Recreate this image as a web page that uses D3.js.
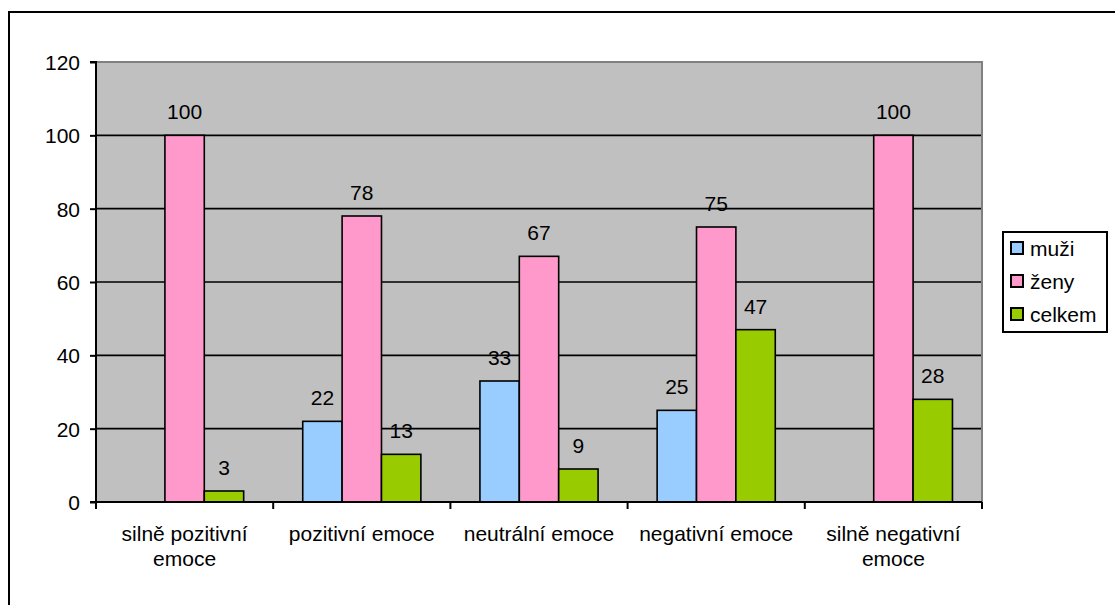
<!DOCTYPE html>
<html>
<head>
<meta charset="utf-8">
<script src="https://cdn.jsdelivr.net/npm/d3@7"></script>
<style>
  html, body { margin: 0; padding: 0; background: #fff; }
  svg { display: block; font-family: "Liberation Sans", Arial, sans-serif; }
</style>
</head>
<body>
<svg id="chart" width="1115" height="605"></svg>
<script>
// Categories (label lines) and series values
const categories = [
  ["silně pozitivní", "emoce"],
  ["pozitivní emoce"],
  ["neutrální emoce"],
  ["negativní emoce"],
  ["silně negativní", "emoce"]
];
const seriesNames = ["muži", "ženy", "celkem"];
const muzi   = [null, 22, 33, 25, null];
const zeny   = [100, 78, 67, 75, 100];
const celkem = [3, 13, 9, 47, 28];
const yTicks = [0, 20, 40, 60, 80, 100, 120];
const colors = ["#99CCFF", "#FF99CC", "#99CC00"];

const series = [muzi, zeny, celkem];

const svg = d3.select("#chart");
const plot = { left: 96, right: 982, top: 62, bottom: 502 };

// Outer frame (extends past the right and bottom edges)
svg.append("rect")
  .attr("x", 9).attr("y", 12)
  .attr("width", 1200).attr("height", 700)
  .attr("fill", "none").attr("stroke", "#000").attr("stroke-width", 2);

const x0 = d3.scaleBand()
  .domain(d3.range(categories.length))
  .range([plot.left, plot.right])
  .paddingInner(0).paddingOuter(0);

// Three bars per group, 150% gap width
const barW = x0.bandwidth() / 4.5;
const x1 = d3.scaleBand()
  .domain(d3.range(series.length))
  .range([0, barW * 3]);
const groupOffset = (x0.bandwidth() - barW * 3) / 2;

const y = d3.scaleLinear().domain([0, 120]).range([plot.bottom, plot.top]);

// Plot background
svg.append("rect")
  .attr("x", plot.left).attr("y", plot.top)
  .attr("width", plot.right - plot.left).attr("height", plot.bottom - plot.top)
  .attr("fill", "#C0C0C0");

// Gridlines
svg.append("g").selectAll("line")
  .data(yTicks.filter(t => t > 0 && t < 120))
  .join("line")
  .attr("x1", plot.left).attr("x2", plot.right)
  .attr("y1", d => y(d)).attr("y2", d => y(d))
  .attr("stroke", "#000").attr("stroke-width", 1.6);

// Grey top/right border of the plot area
svg.append("path")
  .attr("d", `M${plot.left},${plot.top}H${plot.right}V${plot.bottom}`)
  .attr("fill", "none").attr("stroke", "#808080").attr("stroke-width", 2);

// Bars
const bars = [];
series.forEach((vals, si) => {
  vals.forEach((v, ci) => {
    if (v !== null) bars.push({ si, ci, v });
  });
});

svg.append("g").selectAll("rect")
  .data(bars)
  .join("rect")
  .attr("x", d => x0(d.ci) + groupOffset + x1(d.si))
  .attr("y", d => y(d.v))
  .attr("width", x1.bandwidth())
  .attr("height", d => y(0) - y(d.v))
  .attr("fill", d => colors[d.si])
  .attr("stroke", "#000").attr("stroke-width", 1.6);

// Value labels
svg.append("g").selectAll("text")
  .data(bars)
  .join("text")
  .attr("x", d => x0(d.ci) + groupOffset + x1(d.si) + x1.bandwidth() / 2)
  .attr("y", d => y(d.v) - 16)
  .attr("text-anchor", "middle")
  .attr("font-size", 21)
  .attr("fill", "#000")
  .text(d => d.v);

// Y axis
const yAxis = d3.axisLeft(y).tickValues(yTicks).tickSize(6).tickPadding(10);
const gy = svg.append("g")
  .attr("transform", `translate(${plot.left},0)`)
  .call(yAxis);
gy.select(".domain").attr("stroke", "#000").attr("stroke-width", 2)
  .attr("d", `M-6,${plot.top}H0V${plot.bottom}H-6`);
gy.selectAll(".tick line").attr("stroke", "#000").attr("stroke-width", 2);
gy.selectAll(".tick text")
  .attr("font-size", 21).attr("font-family", "Liberation Sans, Arial, sans-serif")
  .attr("fill", "#000").attr("dy", "0.36em");

// X axis line and boundary ticks
const boundaries = d3.range(categories.length + 1).map(i =>
  i < categories.length ? x0(i) : plot.right);
svg.append("line")
  .attr("x1", plot.left - 1).attr("x2", plot.right)
  .attr("y1", plot.bottom).attr("y2", plot.bottom)
  .attr("stroke", "#000").attr("stroke-width", 2);
svg.append("g").selectAll("line")
  .data(boundaries)
  .join("line")
  .attr("x1", d => d).attr("x2", d => d)
  .attr("y1", plot.bottom).attr("y2", plot.bottom + 7)
  .attr("stroke", "#000").attr("stroke-width", 2);

// Category labels
const catG = svg.append("g").selectAll("text")
  .data(categories)
  .join("text")
  .attr("x", (d, i) => x0(i) + x0.bandwidth() / 2)
  .attr("y", 541)
  .attr("text-anchor", "middle")
  .attr("font-size", 21)
  .attr("fill", "#000");
catG.selectAll("tspan")
  .data(d => d)
  .join("tspan")
  .attr("x", function () { return this.parentNode.getAttribute("x"); })
  .attr("dy", (d, i) => i === 0 ? 0 : 25)
  .text(d => d);

// Legend
const legend = svg.append("g");
legend.append("rect")
  .attr("x", 1003).attr("y", 232)
  .attr("width", 104).attr("height", 100)
  .attr("fill", "#fff").attr("stroke", "#000").attr("stroke-width", 2);
const li = legend.selectAll("g.item")
  .data(seriesNames)
  .join("g").attr("class", "item")
  .attr("transform", (d, i) => `translate(0,${i * 33})`);
li.append("rect")
  .attr("x", 1011).attr("y", 242)
  .attr("width", 12).attr("height", 12)
  .attr("fill", (d, i) => colors[i])
  .attr("stroke", "#000").attr("stroke-width", 2);
li.append("text")
  .attr("x", 1030).attr("y", 256)
  .attr("font-size", 21)
  .attr("fill", "#000")
  .text(d => d);
</script>
</body>
</html>
